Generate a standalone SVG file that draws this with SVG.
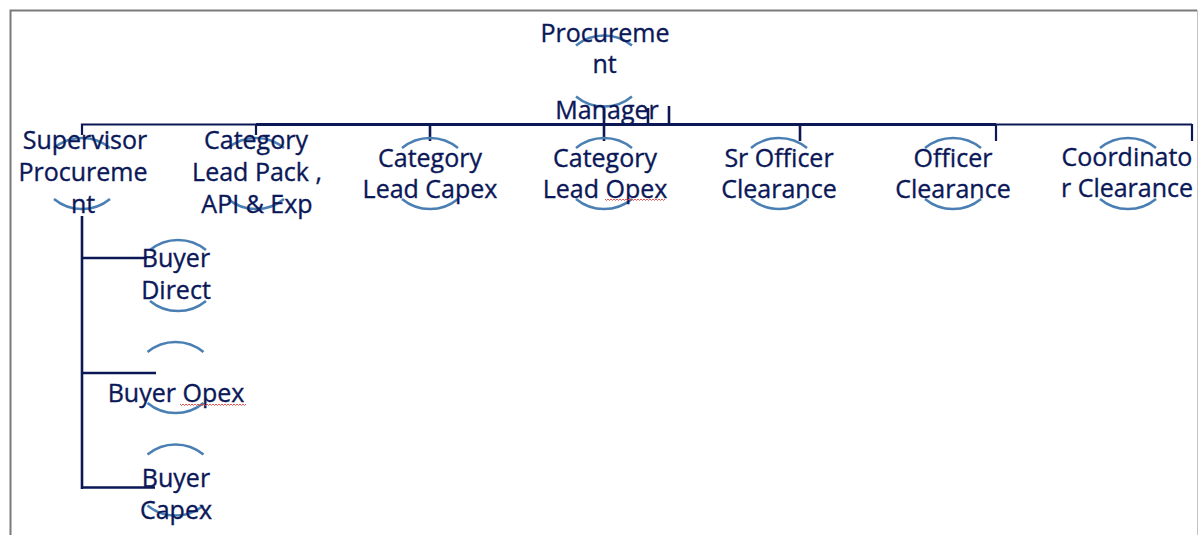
<svg xmlns="http://www.w3.org/2000/svg" xmlns:xlink="http://www.w3.org/1999/xlink" width="1199" height="535" viewBox="0 0 1199 535">
  <style>
    .lbl { font-family: "Open Sans", "Liberation Sans", sans-serif; font-size: 25px; fill: #0b1858; stroke: #0b1858; stroke-width: 0.35; text-anchor: middle; }
    .ring { fill: none; stroke: #4a7fb3; stroke-width: 2.5; }
    .wire { fill: none; stroke: #0b1855; stroke-linecap: butt; }
    .spell { fill: none; stroke: #e0443c; stroke-width: 0.9; }
  </style>
  <defs>
    <!-- broken circle: an upper and a lower arc around the node centre -->
    <path id="ring" class="ring" d="M-28,-25.5 A44,44 0 0 1 28,-25.5 M-28,25.5 A44,44 0 0 0 28,25.5"/>
  </defs>

  <rect width="1199" height="535" fill="#ffffff"/>

  <!-- page frame -->
  <path d="M10.5,535 V10.5 H1197" fill="none" stroke="#7a7a7a" stroke-width="2"/>
  <path d="M1197.5,10 V535" fill="none" stroke="#c4c4c4" stroke-width="1"/>

  <!-- connectors -->
  <g id="connectors">
    <path class="wire" stroke-width="2.2" d="M82,135 V124.5 H256 V135"/>
    <path class="wire" stroke-width="3" d="M256,124.5 H996"/>
    <path class="wire" stroke-width="2.2" d="M996,124.5 H1192"/>
    <path class="wire" stroke-width="2.6" d="M430,124 V141 M604,108 V141 M648,108 V124 M669,106 V124 M800,124 V141"/>
    <path class="wire" stroke-width="2.2" d="M996,124 V141 M1192,124 V141"/>
    <path class="wire" stroke-width="2.6" d="M82,216 V489"/>
    <path class="wire" stroke-width="2.4" d="M82,258 H147 M82,373 H156 M82,487.5 H155"/>
  </g>

  <g id="procurement-manager">
    <use xlink:href="#ring" x="604" y="71"/>
    <text class="lbl" x="605" y="42">Procureme</text>
    <text class="lbl" x="604.5" y="73">nt</text>
    <text class="lbl" x="607" y="118.5">Manager</text>
  </g>

  <g id="supervisor-procurement">
    <use xlink:href="#ring" x="82" y="173.5"/>
    <text class="lbl" x="84" y="149"><tspan x="85">Supervisor</tspan><tspan x="83" dy="32">Procureme</tspan><tspan x="83" dy="32">nt</tspan></text>
  </g>

  <g id="category-lead-pack">
    <use xlink:href="#ring" x="256" y="173.5"/>
    <text class="lbl" x="256" y="149"><tspan x="256">Category</tspan><tspan x="257" dy="32">Lead Pack ,</tspan><tspan x="257" dy="32">API &amp; Exp</tspan></text>
  </g>

  <g id="category-lead-capex">
    <use xlink:href="#ring" x="430" y="173.5"/>
    <text class="lbl" x="430" y="166.5"><tspan x="430">Category</tspan><tspan x="430" dy="31">Lead Capex</tspan></text>
  </g>

  <g id="category-lead-opex">
    <use xlink:href="#ring" x="604" y="173.5"/>
    <text class="lbl" x="605" y="166.5"><tspan x="605">Category</tspan><tspan x="605" dy="31">Lead Opex</tspan></text>
    <path class="spell" d="M605,199 l1.5,1.5 l1.5,-1.5 l1.5,1.5 l1.5,-1.5 l1.5,1.5 l1.5,-1.5 l1.5,1.5 l1.5,-1.5 l1.5,1.5 l1.5,-1.5 l1.5,1.5 l1.5,-1.5 l1.5,1.5 l1.5,-1.5 l1.5,1.5 l1.5,-1.5 l1.5,1.5 l1.5,-1.5 l1.5,1.5 l1.5,-1.5 l1.5,1.5 l1.5,-1.5 l1.5,1.5 l1.5,-1.5 l1.5,1.5 l1.5,-1.5 l1.5,1.5 l1.5,-1.5 l1.5,1.5 l1.5,-1.5 l1.5,1.5 l1.5,-1.5 l1.5,1.5 l1.5,-1.5 l1.5,1.5 l1.5,-1.5 l1.5,1.5 l1.5,-1.5 l1.5,1.5 l1.5,-1.5"/>
  </g>

  <g id="sr-officer-clearance">
    <use xlink:href="#ring" x="779" y="173.5"/>
    <text class="lbl" x="779" y="166.5"><tspan x="779">Sr Officer</tspan><tspan x="779" dy="31">Clearance</tspan></text>
  </g>

  <g id="officer-clearance">
    <use xlink:href="#ring" x="953" y="173.5"/>
    <text class="lbl" x="953" y="166.5"><tspan x="953">Officer</tspan><tspan x="953" dy="31">Clearance</tspan></text>
  </g>

  <g id="coordinator-clearance">
    <use xlink:href="#ring" x="1128" y="173.5"/>
    <text class="lbl" x="1127" y="166"><tspan x="1127">Coordinato</tspan><tspan x="1127" dy="31">r Clearance</tspan></text>
  </g>

  <g id="buyer-direct">
    <use xlink:href="#ring" x="178" y="275.5"/>
    <text class="lbl" x="176" y="267"><tspan x="176">Buyer</tspan><tspan x="176" dy="32">Direct</tspan></text>
  </g>

  <g id="buyer-opex">
    <use xlink:href="#ring" x="175.5" y="377.5"/>
    <text class="lbl" x="176" y="402">Buyer Opex</text>
    <path class="spell" d="M180,404 l1.5,1.5 l1.5,-1.5 l1.5,1.5 l1.5,-1.5 l1.5,1.5 l1.5,-1.5 l1.5,1.5 l1.5,-1.5 l1.5,1.5 l1.5,-1.5 l1.5,1.5 l1.5,-1.5 l1.5,1.5 l1.5,-1.5 l1.5,1.5 l1.5,-1.5 l1.5,1.5 l1.5,-1.5 l1.5,1.5 l1.5,-1.5 l1.5,1.5 l1.5,-1.5 l1.5,1.5 l1.5,-1.5 l1.5,1.5 l1.5,-1.5 l1.5,1.5 l1.5,-1.5 l1.5,1.5 l1.5,-1.5 l1.5,1.5 l1.5,-1.5 l1.5,1.5 l1.5,-1.5 l1.5,1.5 l1.5,-1.5 l1.5,1.5 l1.5,-1.5 l1.5,1.5 l1.5,-1.5 l1.5,1.5 l1.5,-1.5 l1.5,1.5 l1.5,-1.5"/>
  </g>

  <g id="buyer-capex">
    <use xlink:href="#ring" x="175.5" y="480"/>
    <text class="lbl" x="176" y="487"><tspan x="176">Buyer</tspan><tspan x="176" dy="32">Capex</tspan></text>
  </g>
</svg>
